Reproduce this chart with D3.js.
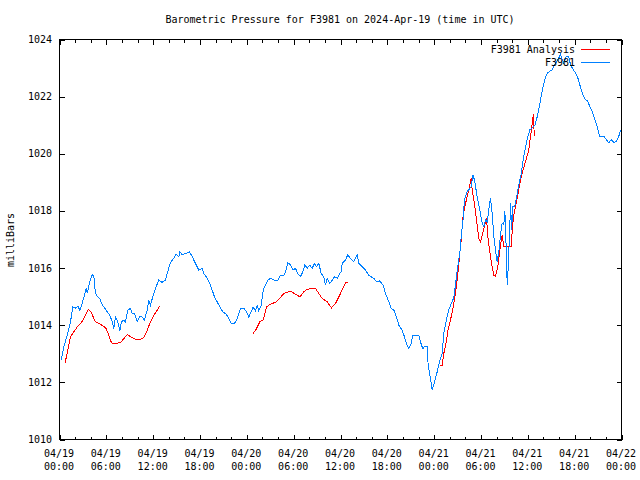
<!DOCTYPE html>
<html><head><meta charset="utf-8">
<script src="https://cdn.jsdelivr.net/npm/d3@7"></script>
<style>
body{margin:0;background:#fff}
svg text{font-family:"DejaVu Sans Mono","Liberation Mono",monospace;font-size:10px;fill:#000}
</style>
</head><body><svg id="c" width="640" height="480"></svg>
<script>
const title = "Barometric Pressure for F3981 on 2024-Apr-19 (time in UTC)";
const yLabel = "milliBars";
const seriesNames = ["F3981 Analysis", "F3981"];
const seriesColors = ["#ff0000", "#0080ff"];
const yTicks = [1010, 1012, 1014, 1016, 1018, 1020, 1022, 1024];
const xTickHours = [0, 6, 12, 18, 24, 30, 36, 42, 48, 54, 60, 66, 72];
const xTickDates = ["04/19","04/19","04/19","04/19","04/20","04/20","04/20","04/20","04/21","04/21","04/21","04/21","04/22"];
const xTickTimes = ["00:00","06:00","12:00","18:00","00:00","06:00","12:00","18:00","00:00","06:00","12:00","18:00","00:00"];

// F3981 (blue) : hours after 2024-04-19 00:00 UTC, pressure mb
const obsHours = [0.2,0.55,0.98,1.41,1.71,2.05,2.35,2.6,2.9,3.2,3.42,3.55,3.88,4.19,4.4,4.61,4.91,5.16,5.38,5.68,6.11,6.45,6.75,6.96,7.17,7.47,7.73,7.94,8.24,8.45,8.75,9.1,9.31,9.61,9.95,10.25,10.59,10.89,11.23,11.44,11.66,12.0,12.3,12.72,13.15,13.58,13.79,14.22,14.64,14.86,15.07,15.3,15.42,15.72,16.14,16.65,17.0,17.42,17.85,18.28,18.49,18.92,19.26,19.56,19.86,20.2,20.54,20.92,21.35,21.69,22.0,22.42,22.76,23.19,23.61,23.96,24.25,24.56,24.81,25.11,25.32,25.53,25.84,26.1,26.39,26.68,27.03,27.45,27.97,28.31,28.74,28.95,29.25,29.59,29.94,30.23,30.53,30.87,31.17,31.43,31.73,32.07,32.37,32.67,32.92,33.22,33.53,33.86,34.08,34.29,34.63,34.94,35.23,35.58,35.91,36.09,36.21,36.64,36.93,37.28,37.7,38.14,38.34,38.78,39.2,39.62,40.27,40.61,41.03,41.47,41.76,42.19,42.49,42.83,43.17,43.47,43.9,44.2,44.45,44.75,45.05,45.26,46.03,46.25,46.54,46.8,47.1,47.23,47.53,47.74,48.04,48.38,48.72,49.03,49.23,49.58,49.87,50.18,50.51,50.73,50.95,51.15,51.37,51.46,51.72,51.88,52.23,52.44,52.74,52.95,53.16,53.51,53.84,54.15,54.36,54.57,54.79,55.0,55.21,55.43,55.64,55.86,56.07,56.28,56.5,56.71,56.92,57.06,57.18,57.36,57.49,57.66,57.79,57.92,58.07,58.3,58.55,58.84,59.15,59.4,59.55,59.9,60.25,60.55,60.9,61.22,61.56,61.87,62.17,62.51,62.84,63.15,63.44,63.79,63.97,64.18,64.4,64.6,64.91,65.24,65.46,65.8,66.1,66.4,66.65,66.96,67.38,67.68,67.93,68.24,68.58,68.88,69.21,69.73,70.07,70.37,70.67,71.0,71.35,71.65,71.87];
const obsValues = [1012.77,1013.24,1013.65,1014.12,1014.64,1014.6,1014.67,1014.53,1014.76,1015.05,1015.3,1015.12,1015.52,1015.78,1015.7,1015.11,1014.99,1014.94,1014.76,1014.64,1014.47,1014.35,1014.12,1013.88,1014.29,1014.12,1013.8,1014.12,1014.18,1014.12,1014.53,1014.59,1014.41,1014.41,1014.12,1014.29,1014.29,1014.18,1014.53,1014.88,1014.7,1015.05,1015.29,1015.58,1015.5,1015.58,1015.81,1016.2,1016.34,1016.46,1016.46,1016.4,1016.57,1016.46,1016.51,1016.57,1016.4,1016.16,1015.93,1015.99,1015.81,1015.64,1015.46,1015.23,1014.99,1014.82,1014.64,1014.47,1014.39,1014.23,1014.06,1014.06,1014.23,1014.59,1014.59,1014.47,1014.29,1014.47,1014.64,1014.5,1014.7,1014.5,1014.7,1015.23,1015.4,1015.58,1015.64,1015.58,1015.58,1015.75,1015.75,1015.87,1016.19,1016.11,1015.93,1015.99,1015.81,1015.7,1015.87,1016.11,1015.99,1016.11,1015.99,1016.16,1016.05,1016.16,1015.81,1015.7,1015.4,1015.64,1015.46,1015.58,1015.7,1015.64,1015.81,1015.87,1016.16,1016.28,1016.46,1016.34,1016.22,1016.46,1016.16,1016.05,1015.93,1015.75,1015.64,1015.52,1015.55,1015.4,1015.11,1014.82,1014.59,1014.53,1014.29,1014.0,1013.82,1013.59,1013.36,1013.18,1013.36,1013.65,1013.65,1013.41,1013.18,1013.26,1013.26,1012.6,1012.13,1011.72,1012.01,1012.36,1012.77,1013.0,1013.71,1014.2,1014.53,1014.76,1014.96,1015.4,1015.93,1016.28,1016.7,1017.1,1017.74,1018.39,1018.68,1018.74,1018.85,1019.26,1019.09,1018.5,1018.04,1017.57,1017.45,1017.68,1017.62,1018.04,1018.45,1017.92,1017.1,1016.63,1016.22,1016.57,1017.16,1017.57,1017.51,1017.98,1017.1,1015.4,1016.05,1017.22,1018.27,1017.33,1018.15,1018.15,1018.45,1018.91,1019.3,1019.79,1020.02,1020.49,1020.84,1020.9,1021.0,1021.31,1021.78,1022.25,1022.6,1022.83,1022.89,1022.95,1023.12,1023.27,1023.36,1023.47,1023.3,1023.18,1023.41,1023.41,1023.12,1022.95,1022.83,1022.66,1022.42,1022.13,1021.89,1021.84,1021.66,1021.48,1021.19,1020.96,1020.61,1020.61,1020.49,1020.38,1020.49,1020.4,1020.43,1020.61,1020.82];

// F3981 Analysis (red) : null marks a gap
const anaHours = [0.68,0.98,1.41,1.84,2.27,2.69,3.03,3.33,3.67,3.97,4.27,4.61,5.16,5.68,5.98,6.32,6.66,7.17,7.81,8.24,8.67,9.18,9.74,10.38,10.8,11.23,11.66,12.08,12.52,12.81,18.0,24.81,25.24,25.66,26.1,26.52,26.81,27.25,27.8,28.31,28.74,29.59,30.1,30.79,31.3,31.73,32.8,33.22,33.65,34.29,34.85,35.36,35.78,36.21,36.64,36.93,42.0,48.72,49.03,49.23,49.58,49.8,50.09,50.44,50.73,50.95,51.15,51.28,51.46,51.67,51.92,52.23,52.53,52.74,52.87,53.16,53.42,53.72,53.94,54.23,54.49,54.71,54.87,55.09,55.35,55.64,55.86,56.15,56.41,56.71,56.92,57.87,58.03,58.2,58.51,58.76,59.06,59.4,59.83,60.13,60.34,60.55,60.64,60.76,60.8,60.89];
const anaValues = [1012.66,1013.0,1013.59,1013.77,1013.94,1014.06,1014.18,1014.35,1014.55,1014.49,1014.32,1014.12,1014.04,1013.96,1013.88,1013.65,1013.38,1013.36,1013.39,1013.53,1013.67,1013.59,1013.51,1013.51,1013.57,1013.82,1014.12,1014.35,1014.53,1014.67,null,1013.71,1013.88,1014.12,1014.18,1014.64,1014.7,1014.76,1014.82,1014.97,1015.11,1015.19,1015.11,1014.99,1015.17,1015.26,1015.29,1015.11,1014.94,1014.82,1014.61,1014.76,1014.99,1015.23,1015.48,1015.48,null,1012.6,1012.6,1013.0,1013.47,1013.88,1014.18,1014.64,1015.1,1015.6,1016.11,1016.52,1016.98,1017.74,1018.15,1018.5,1018.85,1019.15,1018.74,1018.27,1017.68,1017.04,1016.92,1017.22,1017.51,1017.74,1017.1,1016.63,1016.16,1015.75,1015.7,1016.05,1016.63,1017.16,1016.77,1016.77,1017.45,1017.86,1018.27,1018.62,1019.09,1019.44,1019.85,1020.14,1020.61,1021.02,1021.25,1021.4,1020.73,1020.61];

const t0 = Date.UTC(2024, 3, 19, 0, 0);
const toDate = h => new Date(t0 + h * 3600e3);

const L = 59.5, R = 621.5, T = 39.5, B = 439.5;
const svg = d3.select("#c");
svg.append("rect").attr("width", 640).attr("height", 480).attr("fill", "#fff");

const x = d3.scaleUtc().domain([toDate(0), toDate(72)]).range([L, R]);
const y = d3.scaleLinear().domain([1010, 1024]).range([B, T]);

const majorT = xTickHours.map(toDate);
const minorT = d3.range(0, 73, 2).filter(h => h % 6 !== 0).map(toDate);

function styleAxis(g) {
  g.select(".domain").remove();
  g.selectAll(".tick line").attr("stroke", "#000").attr("shape-rendering", "crispEdges");
}

svg.append("g").attr("transform", `translate(0,${B})`)
  .call(d3.axisBottom(x).tickValues(majorT).tickSizeInner(-5).tickSizeOuter(0).tickFormat(() => ""))
  .call(styleAxis);
svg.append("g").attr("transform", `translate(0,${B})`)
  .call(d3.axisBottom(x).tickValues(minorT).tickSizeInner(-3).tickSizeOuter(0).tickFormat(() => ""))
  .call(styleAxis);
svg.append("g").attr("transform", `translate(0,${T})`)
  .call(d3.axisTop(x).tickValues(majorT).tickSizeInner(-5).tickSizeOuter(0).tickFormat(() => ""))
  .call(styleAxis);
svg.append("g").attr("transform", `translate(0,${T})`)
  .call(d3.axisTop(x).tickValues(minorT).tickSizeInner(-3).tickSizeOuter(0).tickFormat(() => ""))
  .call(styleAxis);
svg.append("g").attr("transform", `translate(${L},0)`)
  .call(d3.axisLeft(y).tickValues(yTicks).tickSizeInner(-5).tickSizeOuter(0).tickFormat(() => ""))
  .call(styleAxis);
svg.append("g").attr("transform", `translate(${R},0)`)
  .call(d3.axisRight(y).tickValues(yTicks).tickSizeInner(-5).tickSizeOuter(0).tickFormat(() => ""))
  .call(styleAxis);

const xl = svg.append("g");
xTickHours.forEach((h, i) => {
  const t = xl.append("text").attr("text-anchor", "middle");
  t.append("tspan").attr("x", x(toDate(h)) - 0.5).attr("y", 457).text(xTickDates[i]);
  t.append("tspan").attr("x", x(toDate(h)) - 0.5).attr("y", 470).text(xTickTimes[i]);
});
svg.append("g").selectAll("text").data(yTicks).join("text")
  .attr("text-anchor", "end").attr("x", 52).attr("y", d => y(d) + 3.5).text(d => d);

svg.append("rect").attr("x", L).attr("y", T).attr("width", R - L).attr("height", B - T)
  .attr("fill", "none").attr("stroke", "#000").attr("shape-rendering", "crispEdges");

svg.append("text").attr("x", 340).attr("y", 22.5).attr("text-anchor", "middle").text(title);
svg.append("text").attr("transform", "translate(14,240) rotate(-90)").attr("text-anchor", "middle").text(yLabel);

const line = d3.line().defined(d => d[1] !== null).x(d => x(toDate(d[0]))).y(d => y(d[1]));
const anaData = anaHours.map((h, i) => [h, anaValues[i]]);
const obsData = obsHours.map((h, i) => [h, obsValues[i]]);

svg.append("path").datum(anaData).attr("d", line).attr("fill", "none")
  .attr("stroke", seriesColors[0]).attr("stroke-width", 1).attr("shape-rendering", "crispEdges");
svg.append("path").datum(obsData).attr("d", line).attr("fill", "none")
  .attr("stroke", seriesColors[1]).attr("stroke-width", 1).attr("shape-rendering", "crispEdges");

seriesNames.forEach((name, i) => {
  const ly = 49.5 + i * 13;
  svg.append("text").attr("x", 575).attr("y", ly + 3.5).attr("text-anchor", "end").text(name);
  svg.append("line").attr("x1", 581).attr("x2", 610).attr("y1", ly).attr("y2", ly)
    .attr("stroke", seriesColors[i]).attr("stroke-width", 1).attr("shape-rendering", "crispEdges");
});
</script>
</body></html>
